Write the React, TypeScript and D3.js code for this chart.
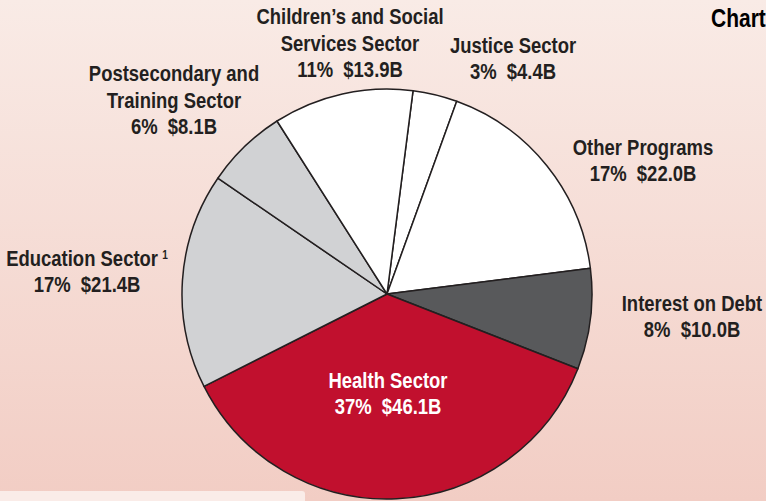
import React from 'react';
import * as d3 from 'd3';

// slices in clockwise order, starting just right of twelve o'clock
const sectors = ['Justice', 'Other', 'Interest', 'Health', 'Education', 'Postsecondary', 'Children'];
const amounts = [4.4, 22.0, 10.0, 46.1, 21.4, 8.1, 13.9];
const percents = ['3%', '17%', '8%', '37%', '17%', '6%', '11%'];
const sectorNames = [
  ['Justice Sector'],
  ['Other Programs'],
  ['Interest on Debt'],
  ['Health Sector'],
  ['Education Sector'],
  ['Postsecondary and', 'Training Sector'],
  ["Children\u2019s and Social", 'Services Sector'],
];
const footnotes = ['', '', '', '', '1', '', ''];

const fills = ['#ffffff', '#ffffff', '#58595b', '#c1102e', '#d1d2d4', '#d1d2d4', '#ffffff'];
// label anchor: centre x and baseline of the last line
const labelPos = [
  [513, 79], [643, 181], [692, 337], [388, 414], [87, 292], [174, 134], [350, 77],
];

const width = 766;
const height = 501;
const cx = 387;
const cy = 294;
const radius = 205;
const startDeg = 7.3;
const lineH = 26.5;
const squeeze = 0.84; // condensed look from a regular sans
const font = "'Liberation Sans', Arial, sans-serif";

const Label = ({ x, y, children, size = 22 }) => (
  <g transform={`translate(${x},${y}) scale(${squeeze},1)`}>
    <text x={0} y={0} fontSize={size}>{children}</text>
  </g>
);

const App = () => {
  const data = sectors.map((s, i) => ({ sector: s, value: amounts[i], i }));
  const start = (startDeg * Math.PI) / 180;
  const pie = d3.pie<any>().sort(null).value((d) => d.value)
    .startAngle(start).endAngle(start + 2 * Math.PI);
  const arc = d3.arc<any>().innerRadius(0).outerRadius(radius);
  const arcs = pie(data);

  return (
    <svg width={width} height={height} style={{ position: 'absolute', left: 0, top: 0 }}>
      <defs>
        <linearGradient id="bg" x1="0" y1="0" x2="0" y2="1">
          <stop offset="0%" stopColor="#f9ebe6" />
          <stop offset="100%" stopColor="#f2cdc4" />
        </linearGradient>
      </defs>
      <rect x={0} y={0} width={width} height={height} fill="url(#bg)" />
      <rect x={-6} y={491} width={311} height={20} rx={3} fill="#faece8" />

      <g transform={`translate(${cx},${cy})`}>
        {arcs.map((a) => (
          <path key={a.data.sector} d={arc(a) as string} fill={fills[a.data.i]}
            stroke="#231f20" strokeWidth={1.5} strokeLinejoin="round" />
        ))}
      </g>

      <g fontFamily={font} fontWeight="bold" textAnchor="middle">
        {sectors.map((s, i) => {
          const lines = sectorNames[i];
          const [x, yLast] = labelPos[i];
          const color = s === 'Health' ? '#ffffff' : '#231f20';
          const y0 = yLast - lines.length * lineH;
          return (
            <g key={s} fill={color}>
              {lines.map((l, j) => (
                <Label key={j} x={x} y={y0 + j * lineH}>
                  {l}
                  {footnotes[i] && j === lines.length - 1 ? (
                    <tspan fontSize={12} dx={5} dy={-7}>{footnotes[i]}</tspan>
                  ) : null}
                </Label>
              ))}
              <Label x={x} y={yLast}>
                {`${percents[i]}\u00a0\u00a0$${amounts[i].toFixed(1)}B`}
              </Label>
            </g>
          );
        })}
        <g textAnchor="start">
          <Label x={711} y={27} size={25}>Chart</Label>
        </g>
      </g>
    </svg>
  );
};

export default App;
